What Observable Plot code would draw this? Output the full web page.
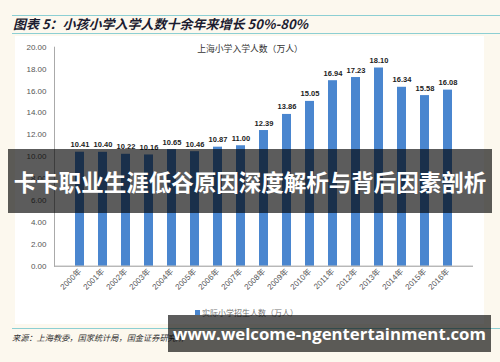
<!DOCTYPE html>
<html>
<head>
<meta charset="utf-8">
<script src="https://cdn.jsdelivr.net/npm/d3@7"></script>
<script src="https://cdn.jsdelivr.net/npm/@observablehq/plot@0.6"></script>
<style>
  html, body { margin: 0; padding: 0; background: #fcf8ee; }
  #root { position: relative; width: 500px; height: 362px; overflow: hidden; background: #fcf8ee; font-family: "Liberation Sans", "Noto Sans CJK SC", sans-serif; }
  .abs { position: absolute; }
  .teal { position: absolute; left: 12px; right: 0; height: 1.5px; background: #8ccfd3; }
  .band { position: absolute; background: rgba(0,0,0,0.64); color: #fff; font-weight: bold; display: flex; align-items: center; justify-content: center; white-space: nowrap; }
</style>
</head>
<body>
<div id="root">
  <div class="abs" style="left:15px;top:36px;width:469px;height:288px;background:#fff"></div>
  <div class="teal" style="top:14.5px"></div>
  <div class="abs" style="left:13px;top:15px;height:18px;line-height:18px;font-family:'Noto Sans CJK SC';font-weight:bold;font-style:italic;font-size:13px;color:#1c1c30;white-space:nowrap" id="title"></div>
  <div class="teal" style="top:32.5px"></div>
  <div id="chart" class="abs" style="left:0;top:0"></div>
  <div class="abs" id="ctitle" style="left:0;width:500px;top:43px;text-align:center;font-family:'Noto Sans CJK SC';font-size:8.8px;line-height:12px;color:#333"></div>
  <div class="abs" id="legend" style="left:195px;top:307px;font-family:'Noto Sans CJK SC';font-size:8px;line-height:12px;color:#777;white-space:nowrap"></div>
  <div class="teal" style="top:327.5px"></div>
  <div class="abs" id="source" style="left:12px;top:331px;font-family:'Noto Sans CJK SC';font-style:italic;font-size:8.2px;line-height:12px;color:#333;white-space:nowrap"></div>
  <div class="band" id="band1" style="left:8px;top:149px;width:484px;height:64px;font-family:'Noto Sans CJK SC';font-size:22.5px"></div>
  <div class="band" id="band2" style="left:168px;top:315px;width:323px;height:37px;font-family:'Open Sans';font-size:16.8px"></div>
</div>
<script>
const years = ["2000年","2001年","2002年","2003年","2004年","2005年","2006年","2007年","2008年","2009年","2010年","2011年","2012年","2013年","2014年","2015年","2016年"];
const enrolment = [10.41,10.40,10.22,10.16,10.65,10.46,10.87,11.00,12.39,13.86,15.05,16.94,17.23,18.10,16.34,15.58,16.08];
const yTicks = [0,2,4,6,8,10,12,14,16,18,20];
const titleText = "图表 5：小孩小学入学人数十余年来增长 50%-80%";
const chartTitle = "上海小学入学人数（万人）";
const legendLabel = "实际小学招生人数（万人）";
const sourceText = "来源：上海教委，国家统计局，国金证券研究所";
const overlayText = "卡卡职业生涯低谷原因深度解析与背后因素剖析";
const watermark = "www.welcome-ngentertainment.com";

const barColor = "#4a86cf";
const data = years.map((y, i) => ({year: y, value: enrolment[i]}));

document.getElementById("title").textContent = titleText;
document.getElementById("ctitle").textContent = chartTitle;
document.getElementById("legend").innerHTML = `<span style="display:inline-block;width:5px;height:5px;background:${barColor};margin-right:2px;vertical-align:1px"></span>` + legendLabel;
document.getElementById("source").textContent = sourceText;
document.getElementById("band1").textContent = overlayText;
document.getElementById("band2").textContent = watermark;

const chart = Plot.plot({
  width: 500,
  height: 362,
  marginLeft: 54,
  marginRight: 27,
  marginTop: 46.7,
  marginBottom: 96.3,
  style: {background: "transparent", fontFamily: "'Liberation Sans', 'Noto Sans CJK SC', sans-serif"},
  x: {domain: years, padding: 0.62, label: null},
  y: {domain: [0, 20], label: null},
  marks: [
    Plot.barY(data, {x: "year", y: "value", fill: barColor}),
    Plot.text(data, {x: "year", y: "value", text: d => d.value.toFixed(2), lineAnchor: "bottom", dy: -5, fontWeight: "bold", fontSize: 7.5, fill: "#222"}),
    Plot.axisY({ticks: yTicks, tickFormat: d => d.toFixed(2), tickSize: 0, tickPadding: 8, fontSize: 8, fill: "#555", label: null}),
    Plot.axisX({tickRotate: -45, tickSize: 0, tickPadding: 4, fontSize: 8, fill: "#555", label: null}),
    Plot.ruleY([0], {stroke: "#999", strokeWidth: 1}),
    Plot.frame({anchor: "left", stroke: "#aaa", strokeWidth: 1})
  ]
});
document.getElementById("chart").appendChild(chart);
</script>
</body>
</html>
